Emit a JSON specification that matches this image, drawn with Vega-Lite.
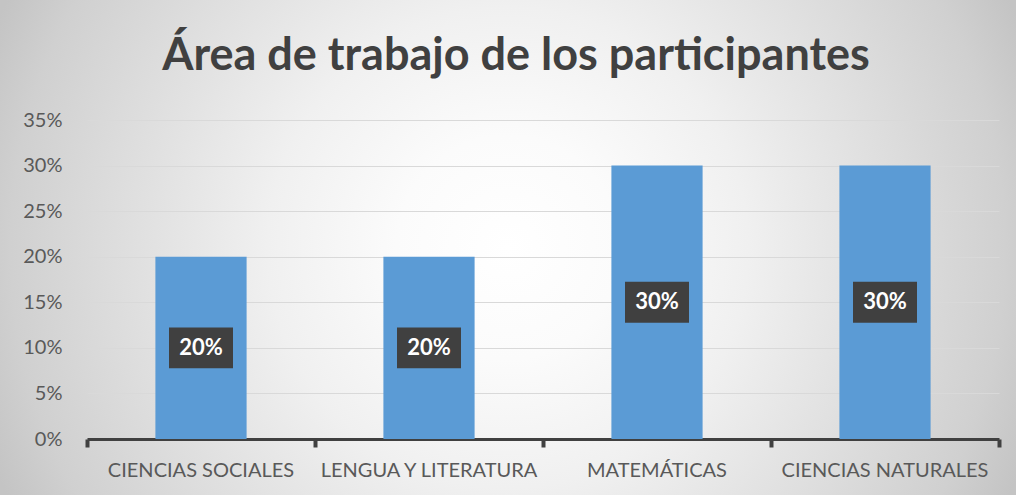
{
  "$schema": "https://vega.github.io/schema/vega-lite/v6.json",
  "width": 1016,
  "height": 495,
  "autosize": {"type": "none"},
  "padding": 0,
  "view": {
    "stroke": null,
    "fill": {
      "gradient": "radial",
      "x1": 0.5, "y1": 0.5, "r1": 0,
      "x2": 0.5, "y2": 0.5, "r2": 0.55,
      "stops": [
        {"offset": 0, "color": "#ffffff"},
        {"offset": 0.2, "color": "#fbfbfb"},
        {"offset": 0.43, "color": "#f0f0f0"},
        {"offset": 0.89, "color": "#d0d0d0"},
        {"offset": 1, "color": "#c4c4c4"}
      ]
    }
  },
  "title": {
    "text": "Área de trabajo de los participantes",
    "font": "Lato",
    "fontSize": 45,
    "fontWeight": "bold",
    "color": "#404040",
    "anchor": "middle",
    "baseline": "alphabetic",
    "dx": 8,
    "dy": 43,
    "offset": -72
  },
  "config": {
    "font": "Lato"
  },
  "data": {
    "values": [
      {"area": "CIENCIAS SOCIALES", "valor": 0.2},
      {"area": "LENGUA Y LITERATURA", "valor": 0.2},
      {"area": "MATEMÁTICAS", "valor": 0.3},
      {"area": "CIENCIAS NATURALES", "valor": 0.3}
    ]
  },
  "layer": [
    {
      "mark": {"type": "bar", "color": "#5B9BD5"},
      "encoding": {
        "x": {
          "field": "area",
          "type": "nominal",
          "sort": null,
          "title": null,
          "scale": {"range": [87, 999], "paddingInner": 0.6, "paddingOuter": 0.3},
          "axis": {
            "orient": "bottom",
            "offset": -56,
            "labelAngle": 0,
            "labelFont": "Lato",
            "labelFontSize": 20,
            "labelFontWeight": "normal",
            "labelColor": "#595959",
            "labelPadding": 13,
            "labelLimit": 0,
            "domainColor": "#404040",
            "domainWidth": 3,
            "tickColor": "#404040",
            "tickWidth": 4,
            "tickSize": 8,
            "bandPosition": -0.75,
            "grid": false
          }
        },
        "y": {
          "field": "valor",
          "type": "quantitative",
          "title": null,
          "scale": {"domain": [0, 0.35], "range": [439, 120]},
          "axis": {
            "offset": -87,
            "format": ".0%",
            "values": [0, 0.05, 0.1, 0.15, 0.2, 0.25, 0.3, 0.35],
            "labelFont": "Lato",
            "labelFontSize": 20,
            "labelFontWeight": "normal",
            "labelColor": "#595959",
            "labelPadding": 25,
            "domain": false,
            "ticks": false,
            "gridColor": "#d9d9d9",
            "gridWidth": 1
          }
        }
      }
    },
    {
      "mark": {
        "type": "point",
        "shape": "M-1,-0.64L1,-0.64L1,0.64L-1,0.64Z",
        "filled": true,
        "color": "#404040",
        "opacity": 1,
        "size": 4096
      },
      "encoding": {
        "x": {
          "field": "area",
          "type": "nominal",
          "sort": null,
          "title": null,
          "axis": {
            "orient": "bottom",
            "offset": -56,
            "values": ["CIENCIAS NATURALES"],
            "labels": false,
            "domain": false,
            "grid": false,
            "tickColor": "#404040",
            "tickWidth": 4,
            "tickSize": 8,
            "bandPosition": 1.75
          }
        },
        "y": {
          "field": "valor",
          "type": "quantitative",
          "scale": {"domain": [0, 0.7], "range": [439, 120]},
          "axis": null
        }
      }
    },
    {
      "mark": {
        "type": "text",
        "font": "Lato",
        "fontSize": 22,
        "fontWeight": "bold",
        "color": "#ffffff",
        "baseline": "middle",
        "align": "center"
      },
      "encoding": {
        "x": {
          "field": "area",
          "type": "nominal",
          "sort": null,
          "axis": null
        },
        "y": {
          "field": "valor",
          "type": "quantitative",
          "scale": {"domain": [0, 0.7], "range": [439, 120]},
          "axis": null
        },
        "text": {"field": "valor", "type": "quantitative", "format": ".0%"}
      }
    }
  ],
  "resolve": {"scale": {"y": "independent"}, "axis": {"x": "independent"}}
}
